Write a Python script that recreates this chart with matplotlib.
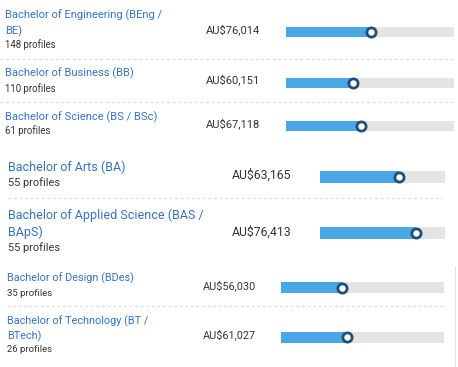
import matplotlib
matplotlib.use("Agg")
import matplotlib.pyplot as plt
from matplotlib.lines import Line2D

plt.rcParams['font.family'] = ['Roboto', 'DejaVu Sans']

# ---- data ----
degrees = [
    "Bachelor of Engineering (BEng /\nBE)",
    "Bachelor of Business (BB)",
    "Bachelor of Science (BS / BSc)",
    "Bachelor of Arts (BA)",
    "Bachelor of Applied Science (BAS /\nBApS)",
    "Bachelor of Design (BDes)",
    "Bachelor of Technology (BT /\nBTech)",
]
profiles = [148, 110, 61, 55, 55, 35, 26]
salaries = [76014, 60151, 67118, 63165, 76413, 56030, 61027]
scale_max = [150000, 150000, 150000, 100000, 100000, 150000, 150000]

# ---- layout (pixels) ----
W, H = 458, 367
fig = plt.figure(figsize=(W / 100, H / 100), dpi=100)
fig.patch.set_facecolor("white")

def fx(x):
    return x / W

def fy(y):
    return 1 - y / H

BLUE_T = "#3672c2"
BAR = "#4aa7e6"
TRACK = "#e4e4e4"
EDGE = "#1f4f78"
TXT = "#333333"

rows = [
    dict(tx=5, ty=15, py=45, sx=206, sy=30, bx0=286, bx1=454, by=32, bh=10.5, ts=8.0, ps=6.9, ss=8.0),
    dict(tx=5, ty=73, py=89, sx=206, sy=80, bx0=286, bx1=454, by=83, bh=10.5, ts=8.0, ps=6.9, ss=8.0),
    dict(tx=5, ty=117, py=131, sx=206, sy=124, bx0=286, bx1=454, by=126, bh=10.5, ts=8.0, ps=6.9, ss=8.0),
    dict(tx=8, ty=167, py=183, sx=232, sy=175, bx0=320, bx1=445, by=177, bh=12, ts=9.0, ps=7.9, ss=8.85),
    dict(tx=8, ty=215, py=248, sx=232, sy=232, bx0=320, bx1=445, by=233, bh=12, ts=9.0, ps=7.9, ss=8.85),
    dict(tx=7, ty=278, py=293, sx=203, sy=286, bx0=281, bx1=444, by=287.5, bh=11, ts=7.8, ps=6.8, ss=7.8),
    dict(tx=7, ty=321, py=350, sx=203, sy=335, bx0=281, bx1=444, by=337, bh=11, ts=7.8, ps=6.8, ss=7.8),
]
line_gap = [16, 16, 16, 17, 17, 15, 15]

for i, r in enumerate(rows):
    lines = degrees[i].split("\n")
    for k, ln in enumerate(lines):
        fig.text(fx(r["tx"]), fy(r["ty"] + k * line_gap[i]), ln, color=BLUE_T,
                 fontsize=r["ts"], va="center", ha="left")
    fig.text(fx(r["tx"]), fy(r["py"]), f"{profiles[i]} profiles", color=TXT,
             fontsize=r["ps"], va="center", ha="left")
    fig.text(fx(r["sx"]), fy(r["sy"]), f"AU${salaries[i]:,}", color=TXT,
             fontsize=r["ss"], va="center", ha="left")

    ax = fig.add_axes([fx(r["bx0"]), fy(r["by"] + r["bh"] / 2),
                       (r["bx1"] - r["bx0"]) / W, r["bh"] / H])
    ax.set_xlim(0, scale_max[i])
    ax.set_ylim(-0.5, 0.5)
    ax.barh(0, scale_max[i], height=1, color=TRACK, left=0)
    ax.barh(0, salaries[i], height=1, color=BAR, left=0)
    ax.scatter([salaries[i]], [0], s=44, facecolor="white", edgecolor=EDGE,
               linewidth=2.0, zorder=5, clip_on=False)
    ax.axis("off")

def hline(y, x0, x1):
    fig.add_artist(Line2D([fx(x0), fx(x1)], [fy(y), fy(y)], color="#dadada",
                          linewidth=0.8, linestyle=(0, (2.5, 2.5))))

hline(59, 0, 455)
hline(102, 0, 455)
hline(198, 8, 443)
hline(306, 7, 444)

fig.add_artist(Line2D([fx(455), fx(455)], [fy(267), fy(367)], color="#e0e0e0", linewidth=0.8))

fig.savefig("out.png", dpi=100, facecolor="white")
